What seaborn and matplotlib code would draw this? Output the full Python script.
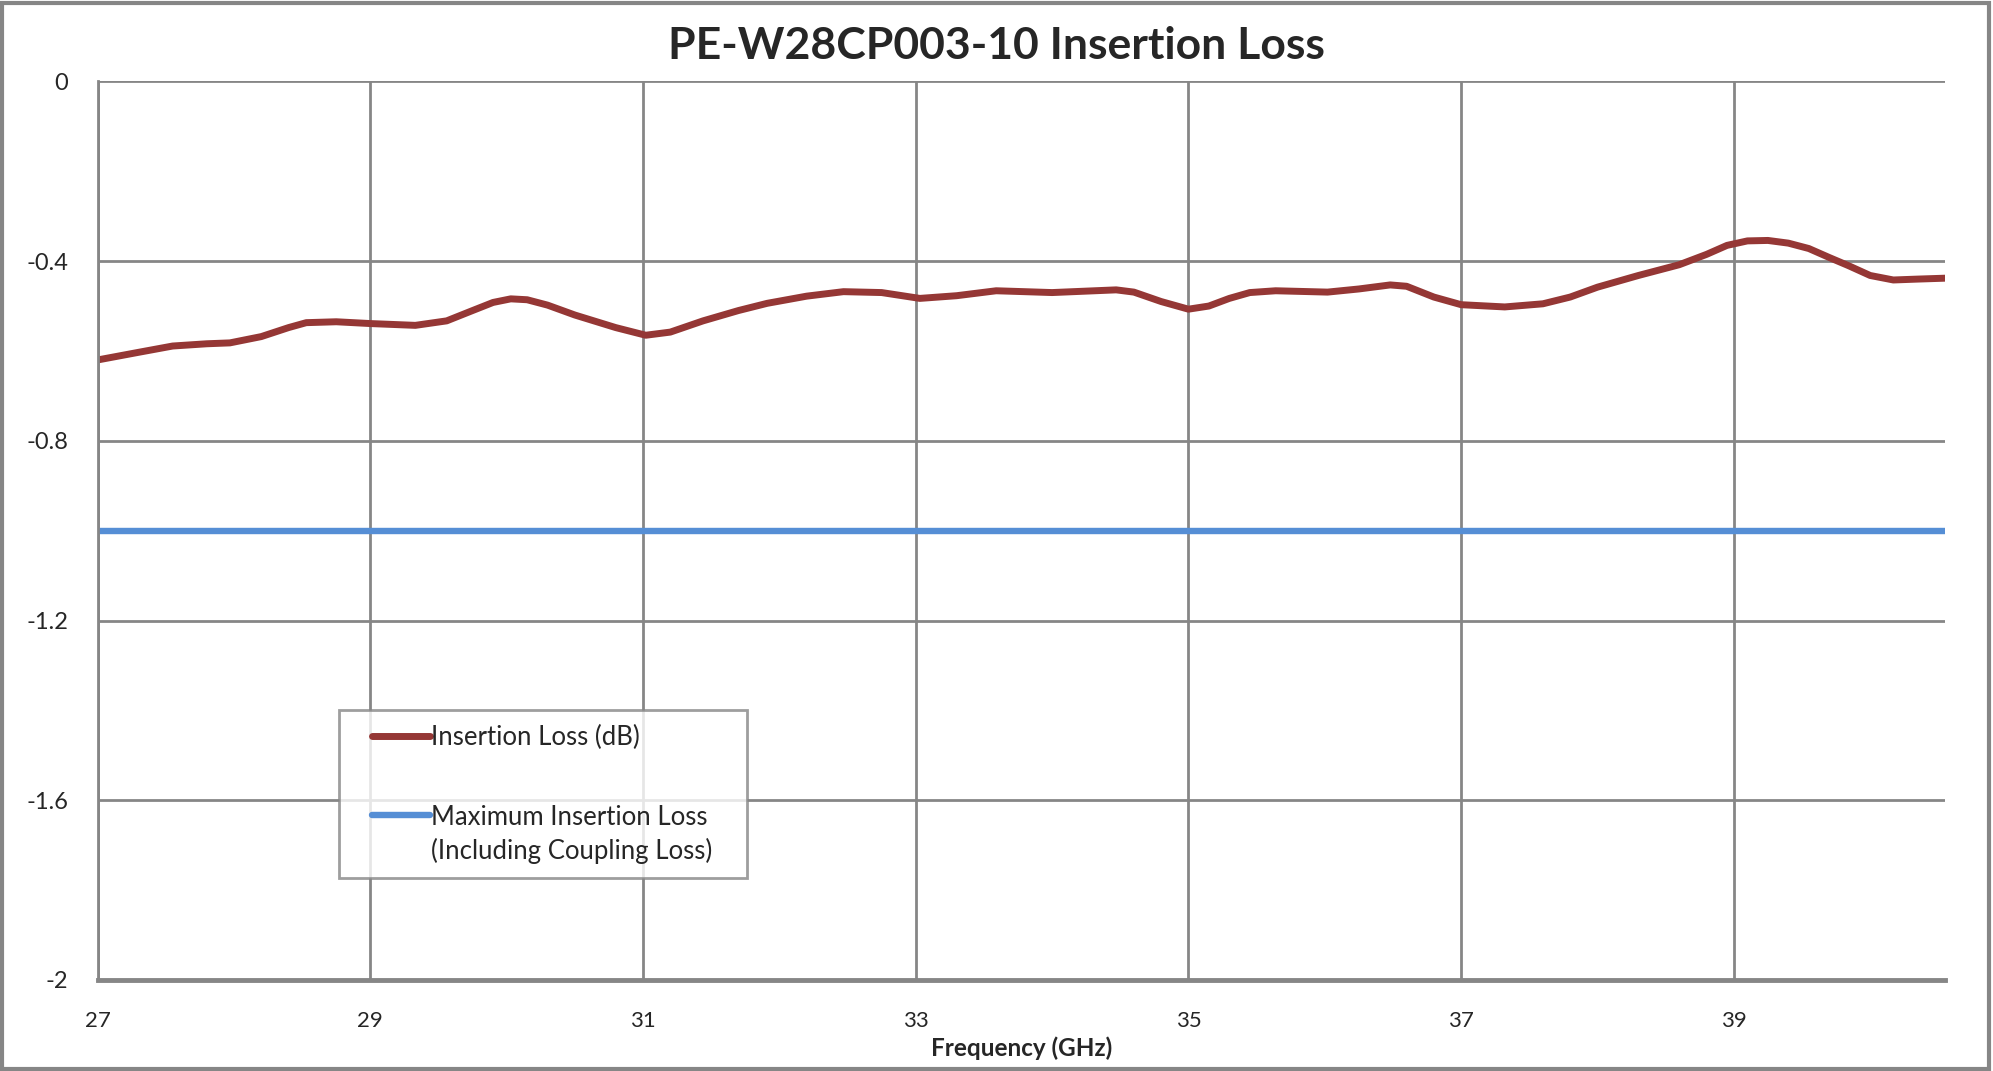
import matplotlib
matplotlib.use('Agg')
import matplotlib.pyplot as plt
import seaborn as sns
import pandas as pd
from matplotlib.patches import Rectangle
from matplotlib.legend_handler import HandlerLine2D

# data
freq = [27.0, 27.3, 27.55, 27.8, 27.97, 28.2, 28.4, 28.53, 28.75, 29.0, 29.33, 29.56, 29.75,
        29.9, 30.03, 30.15, 30.3, 30.5, 30.8, 31.02, 31.2, 31.44, 31.7, 31.91, 32.2, 32.47, 32.75,
        33.03, 33.3, 33.59, 34.0, 34.47, 34.6, 34.8, 35.0, 35.15, 35.3, 35.45, 35.64, 36.02,
        36.25, 36.48, 36.6, 36.8, 37.0, 37.32, 37.6, 37.8, 38.0, 38.3, 38.6, 38.8, 38.95,
        39.1, 39.25, 39.4, 39.55, 39.7, 39.84, 40.0, 40.17, 40.35, 40.55]
loss = [-0.620, -0.603, -0.589, -0.584, -0.582, -0.568, -0.548, -0.537, -0.535, -0.539, -0.543, -0.533, -0.510,
        -0.492, -0.484, -0.486, -0.498, -0.520, -0.548, -0.565, -0.558, -0.533, -0.510, -0.494, -0.478, -0.468, -0.470,
        -0.483, -0.477, -0.466, -0.470, -0.464, -0.469, -0.490, -0.507, -0.500, -0.483, -0.470, -0.466, -0.469,
        -0.462, -0.453, -0.456, -0.480, -0.497, -0.502, -0.495, -0.480, -0.458, -0.432, -0.408, -0.385, -0.365,
        -0.355, -0.354, -0.360, -0.372, -0.392, -0.410, -0.432, -0.442, -0.440, -0.438]
max_freq = [27.0, 40.55]
max_loss = [-1.0, -1.0]

xticks = [27, 29, 31, 33, 35, 37, 39]
yticks = [0, -0.4, -0.8, -1.2, -1.6, -2]
ytick_labels = ['0', '-0.4', '-0.8', '-1.2', '-1.6', '-2']


class ExcelLineHandler(HandlerLine2D):
    # line sits at the right end of the handle area, optionally next to the first text line
    def __init__(self, shift=0, start=0.25, **kw):
        super().__init__(**kw)
        self.shift = shift
        self.start = start

    def create_artists(self, legend, orig_handle, xdescent, ydescent, width, height, fontsize, trans):
        arts = super().create_artists(legend, orig_handle, xdescent, ydescent, width, height, fontsize, trans)
        for a in arts:
            xd = list(a.get_xdata())
            x0, x1 = xd[0], xd[-1]
            a.set_xdata([x0 + self.start * (x1 - x0), x1])
            yd = list(a.get_ydata())
            a.set_ydata([yd[0] + self.shift, yd[-1] + self.shift])
        return arts


sns.set_style('white')
plt.rcParams['font.family'] = ['Lato', 'DejaVu Sans']

df = pd.DataFrame({'Frequency': freq, 'Loss': loss})
df_max = pd.DataFrame({'Frequency': max_freq, 'Loss': max_loss})

grid_c = '#868686'
fig = plt.figure(figsize=(19.93, 10.71), dpi=100)
ax = fig.add_axes([0.049, 0.085, 0.927, 0.839])

sns.lineplot(x='Frequency', y='Loss', data=df, color='#953735', linewidth=5,
             label='Insertion Loss (dB)', ax=ax, solid_joinstyle='round')
sns.lineplot(x='Frequency', y='Loss', data=df_max, color='#558ED5', linewidth=4.6,
             label='Maximum Insertion Loss\n(Including Coupling Loss)   ', ax=ax)

ax.set_xlim(27, 40.55)
ax.set_ylim(-2, 0)
ax.set_xticks(xticks)
ax.set_yticks(yticks)
ax.set_yticklabels(ytick_labels)
ax.grid(True, color=grid_c, linewidth=2)
for s in ['top', 'right']:
    ax.spines[s].set_visible(False)
ax.spines['left'].set_color(grid_c)
ax.spines['left'].set_linewidth(2)
ax.spines['bottom'].set_color(grid_c)
ax.spines['bottom'].set_linewidth(3.5)
ax.tick_params(axis='y', length=7, width=2, color=grid_c, pad=14, labelsize=17)
ax.tick_params(axis='x', length=0, pad=22, labelsize=16)

ax.set_xlabel('Frequency (GHz)', fontweight='bold', fontsize=17.5, labelpad=4)
ax.set_ylabel('')

fig.suptitle('PE-W28CP003-10 Insertion Loss', fontweight='bold', fontsize=32,
             y=0.957, va='center')

handles, labels = ax.get_legend_handles_labels()
leg = ax.legend(handles, labels, loc='upper left', bbox_to_anchor=(0.1305, 0.300), fontsize=18.5,
                frameon=True, fancybox=False, handlelength=3.0, handletextpad=0.05,
                labelspacing=2.15, borderpad=0.55, borderaxespad=0,
                handler_map={handles[0]: ExcelLineHandler(shift=0),
                             handles[1]: ExcelLineHandler(shift=15)})
for t in leg.get_texts():
    t.set_linespacing(1.38)
leg.get_frame().set_edgecolor(grid_c)
leg.get_frame().set_linewidth(2)

fig.patches.append(Rectangle((0.001, 0.002), 0.997, 0.995, transform=fig.transFigure,
                             fill=False, edgecolor=grid_c, linewidth=3))

plt.savefig('out.png', dpi=100)
